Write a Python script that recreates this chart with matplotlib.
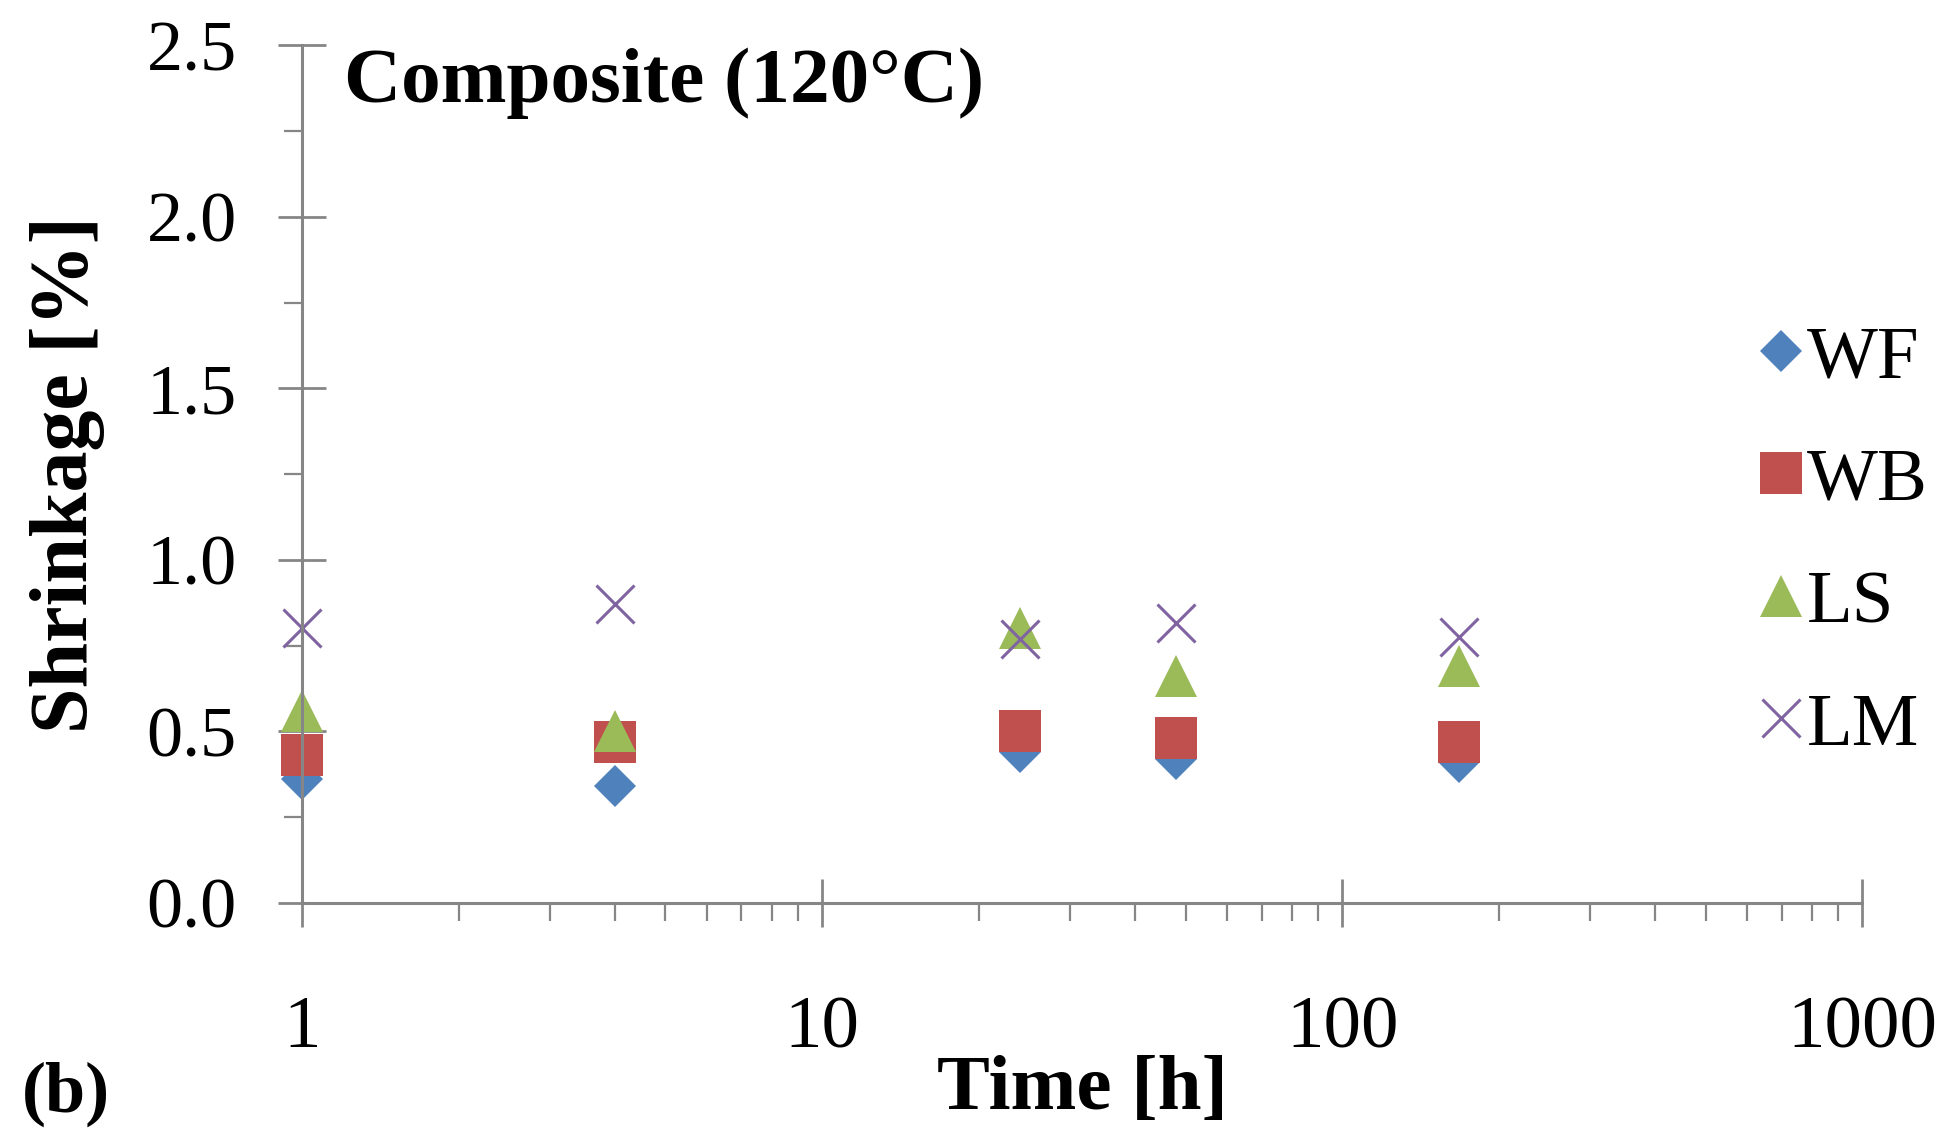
"""Shrinkage vs time for composites at 120 C (panel b)."""

import matplotlib.pyplot as plt
from matplotlib.ticker import FixedLocator, NullFormatter

plt.rcParams["font.family"] = ["Liberation Serif", "DejaVu Serif"]

time_h = [1, 4, 24, 48, 168]
series_names = ["WF", "WB", "LS", "LM"]
wf = [0.36, 0.34, 0.44, 0.42, 0.41]
wb = [0.43, 0.47, 0.50, 0.48, 0.47]
ls = [0.56, 0.50, 0.80, 0.66, 0.69]
lm = [0.80, 0.87, 0.77, 0.815, 0.775]

axis_grey = "#868686"

fig = plt.figure(figsize=(19.48, 11.30), dpi=100)
ax = fig.add_axes([0.155, 0.201, 0.801, 0.759])

ax.plot(time_h, wf, ls="none", marker="D", ms=21, color="#4F81BD", mew=0,
        clip_on=False, label=series_names[0])
ax.plot(time_h, wb, ls="none", marker="s", ms=30, color="#C0504D", mew=0,
        clip_on=False, label=series_names[1])
ax.plot(time_h, ls, ls="none", marker="^", ms=30, color="#9BBB59", mew=0,
        clip_on=False, label=series_names[2])
ax.plot(time_h, lm, ls="none", marker="x", ms=28, color="#8064A2", mew=2.2,
        clip_on=False, label=series_names[3])

ax.set_xscale("log")
ax.set_xlim(1, 1000)
ax.set_ylim(0, 2.5)
ax.set_yticks([0.0, 0.5, 1.0, 1.5, 2.0, 2.5])
ax.set_yticklabels(["0.0", "0.5", "1.0", "1.5", "2.0", "2.5"])
ax.yaxis.set_minor_locator(FixedLocator([0.25, 0.75, 1.25, 1.75, 2.25]))
ax.set_xticks([1, 10, 100, 1000])
ax.set_xticklabels(["1", "10", "100", "1000"])
ax.xaxis.set_minor_formatter(NullFormatter())

for side in ("top", "right"):
    ax.spines[side].set_visible(False)
for side in ("left", "bottom"):
    ax.spines[side].set_color(axis_grey)
    ax.spines[side].set_linewidth(2.2)

ax.tick_params(axis="both", which="major", direction="inout", length=34, width=2,
               color=axis_grey, labelsize=54)
ax.tick_params(axis="y", which="major", labelsize=52, pad=30)
ax.tick_params(axis="x", which="major", pad=50)
ax.tick_params(axis="both", which="minor", direction="out", length=13, width=1.6,
               color=axis_grey)

ax.set_xlabel("Time [h]", fontsize=57, fontweight="bold", labelpad=-6)
ax.set_ylabel("Shrinkage [%]", fontsize=59, fontweight="bold", labelpad=30)

ax.text(0.027, 0.997, "Composite (120°C)", transform=ax.transAxes, fontsize=57,
        fontweight="bold", ha="left", va="top")
fig.text(0.011, 0.032, "(b)", fontsize=52, fontweight="bold", ha="left", va="center")

ax.legend(loc="center left", bbox_to_anchor=(0.914, 0.42), frameon=False, fontsize=54,
          handlelength=0.6, handletextpad=0.05, labelspacing=0.72, borderaxespad=0)

fig.savefig("out.png", dpi=100)
